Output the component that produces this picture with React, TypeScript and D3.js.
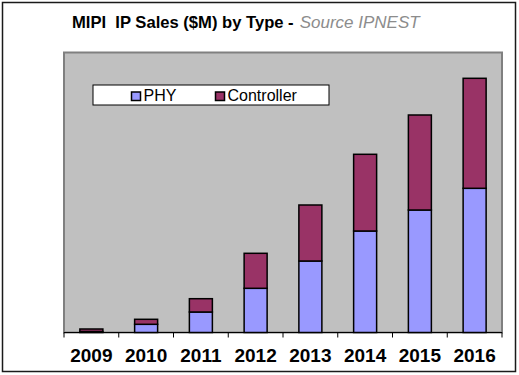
import React from "react";
import * as d3 from "d3";

const years = ["2009", "2010", "2011", "2012", "2013", "2014", "2015", "2016"];
const phy = [1, 8.2, 20.5, 44.2, 71.5, 101.5, 122.5, 144.2];
const controller = [2.5, 5, 13.3, 35, 56, 76.7, 95, 110];
const seriesNames = ["PHY", "Controller"];
const seriesColors = ["#9999FF", "#993366"];
const yMax = 280;

const W = 519;
const H = 375;
const plot = { left: 64, right: 502, top: 52.5, bottom: 332.5 };

export default function App() {
  const x = d3
    .scaleBand<string>()
    .domain(years)
    .range([plot.left, plot.right])
    .paddingInner(0.58)
    .paddingOuter(0.29);
  const xTick = d3.scaleBand<string>().domain(years).range([plot.left, plot.right]).padding(0);
  const y = d3.scaleLinear().domain([0, yMax]).range([plot.bottom, plot.top]);

  const rows = years.map((yr, i) => ({ year: yr, PHY: phy[i], Controller: controller[i] }));
  const stacked = d3.stack<any>().keys(seriesNames)(rows);

  const tickXs = [...years.map((yr) => xTick(yr)!), plot.right];

  return (
    <svg
      width={W}
      height={H}
      style={{ position: "absolute", left: 0, top: 0, background: "#fff" }}
      fontFamily="Arial, 'Liberation Sans', sans-serif"
    >
      <rect x={0} y={0} width={W} height={H} fill="#fff" />
      <rect x={2.5} y={2.5} width={513} height={369} fill="#fff" stroke="#1a1a1a" strokeWidth={1.5} />

      <text x={72} y={27.5} fontSize={16.6} fontWeight="bold" fill="#000">
        MIPI{"\u00a0\u00a0"}IP Sales ($M) by Type -
        <tspan dx={6} fontWeight="normal" fontStyle="italic" fill="#8c8c8c" fontSize={17}>
          Source IPNEST
        </tspan>
      </text>

      {/* plot area */}
      <rect
        x={plot.left}
        y={plot.top}
        width={plot.right - plot.left}
        height={plot.bottom - plot.top}
        fill="#C0C0C0"
        stroke="#808080"
        strokeWidth={2}
      />

      {/* bars */}
      {stacked.map((s, si) =>
        s.map((d, i) => (
          <rect
            key={`${si}-${i}`}
            x={x(years[i])!}
            y={y(d[1])}
            width={x.bandwidth()}
            height={y(d[0]) - y(d[1])}
            fill={seriesColors[si]}
            stroke="#000"
            strokeWidth={1.5}
          />
        ))
      )}

      {/* axis */}
      <line x1={plot.left} x2={plot.right} y1={plot.bottom} y2={plot.bottom} stroke="#000" strokeWidth={1.2} />
      {tickXs.map((tx, i) => (
        <line key={i} x1={tx} x2={tx} y1={plot.bottom} y2={plot.bottom + 5} stroke="#000" strokeWidth={1} />
      ))}
      {years.map((yr) => (
        <text
          key={yr}
          x={xTick(yr)! + xTick.bandwidth() / 2}
          y={361.5}
          textAnchor="middle"
          fontSize={19}
          fontWeight="bold"
          fill="#000"
        >
          {yr}
        </text>
      ))}

      {/* legend */}
      <rect x={93} y={85} width={236} height={20} fill="#fff" stroke="#000" strokeWidth={1} />
      {seriesNames.map((n, i) => {
        const sx = i === 0 ? 131.5 : 215.5;
        return (
          <g key={n}>
            <rect x={sx} y={92} width={9} height={8.5} fill={seriesColors[i]} stroke="#000" strokeWidth={1.5} />
            <text x={sx + 12} y={100.5} fontSize={16} fill="#000">
              {n}
            </text>
          </g>
        );
      })}
    </svg>
  );
}
